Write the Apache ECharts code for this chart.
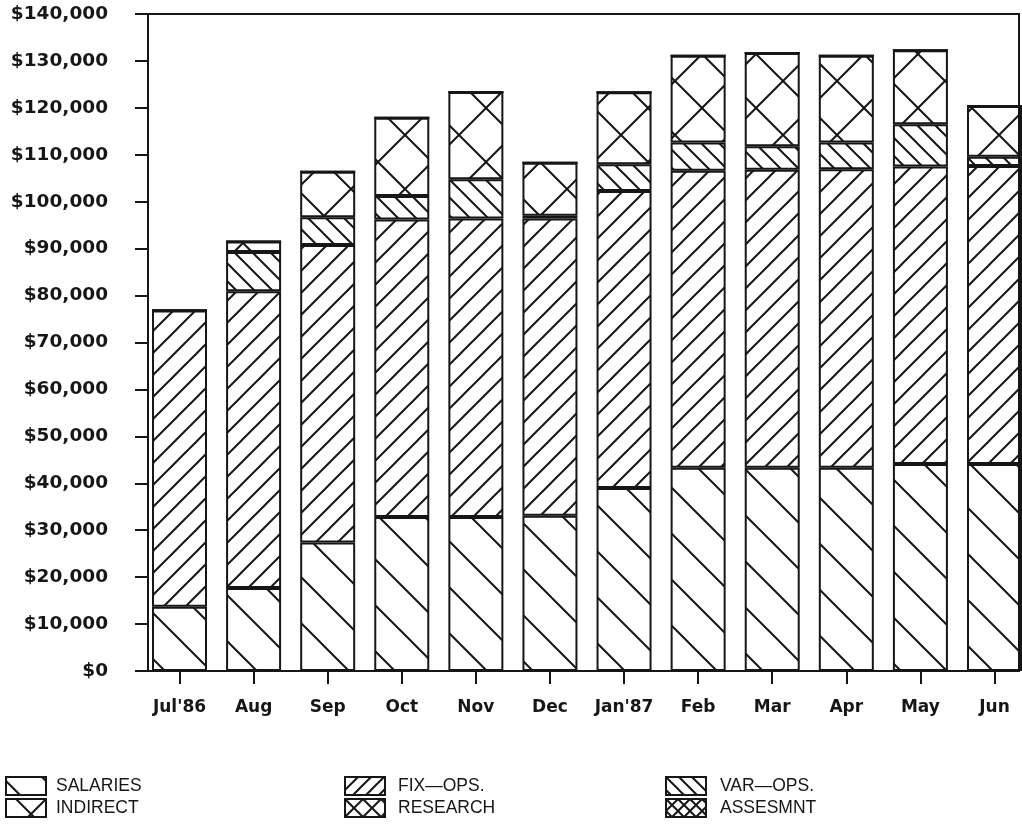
<!DOCTYPE html>
<html>
<head>
<meta charset="utf-8">
<script src="https://cdn.jsdelivr.net/npm/echarts@6.0.0/dist/echarts.min.js"></script>
<style>
  html, body { margin: 0; padding: 0; background: #ffffff; }
  #chart { width: 1022px; height: 827px; }
</style>
</head>
<body>
<div id="chart"></div>
<script>
// Monthly expenditure, Jul'86 - Jun'87, stacked by cost category
const months = ["Jul'86", "Aug", "Sep", "Oct", "Nov", "Dec", "Jan'87", "Feb", "Mar", "Apr", "May", "Jun"];
const salaries = [13700, 17700, 27400, 32800, 32800, 33100, 39000, 43300, 43300, 43300, 44100, 44100];
const fixOps   = [63100, 63200, 63400, 63400, 63600, 63300, 63300, 63300, 63500, 63600, 63400, 63500];
const varOps   = [0, 8400, 5900, 5000, 8400, 600, 5700, 6000, 5000, 5700, 9000, 2000];
const indirect = [0, 2200, 9700, 16700, 18600, 11300, 15300, 18500, 19900, 18500, 15800, 10800];
const research = [0, 0, 0, 0, 0, 0, 0, 0, 0, 0, 0, 0];
const assesmnt = [0, 0, 0, 0, 0, 0, 0, 0, 0, 0, 0, 0];

const INK = '#161616';

// Repeating 45-degree hatch tile; '\\' and '/' choose the stroke directions,
// offB / offF shift each family of strokes along the tile.
function hatch(step, kinds, lw, offB, offF) {
  const c = document.createElement('canvas');
  c.width = step; c.height = step;
  const g = c.getContext('2d');
  g.fillStyle = '#ffffff';
  g.fillRect(0, 0, step, step);
  g.strokeStyle = INK;
  g.lineWidth = lw;
  offB = offB || 0;
  offF = offF === undefined ? offB : offF;
  for (let k = -2; k <= 2; k++) {
    if (kinds.indexOf('\\') >= 0) {
      const o = k * step + offB;
      g.beginPath(); g.moveTo(-step + o, -step); g.lineTo(2 * step + o, 2 * step); g.stroke();
    }
    if (kinds.indexOf('/') >= 0) {
      const o = k * step + offF;
      g.beginPath(); g.moveTo(-step + o, 2 * step); g.lineTo(2 * step + o, -step); g.stroke();
    }
  }
  return { image: c, repeat: 'repeat' };
}

// fills used inside the bars
const fills = {
  'SALARIES': hatch(46, '\\', 2),
  'FIX\u2014OPS.': hatch(22, '/', 2),
  'VAR\u2014OPS.': hatch(18, '\\', 2),
  'INDIRECT': hatch(54, '\\/', 2),
  'RESEARCH': hatch(20, '\\/', 2),
  'ASSESMNT': hatch(13, '\\/', 2)
};
// smaller-scale fills for the legend swatches
const swatches = {
  'SALARIES': hatch(40, '\\', 2, 36),
  'FIX\u2014OPS.': hatch(13, '/', 2),
  'VAR\u2014OPS.': hatch(13, '\\', 2),
  'INDIRECT': hatch(40, '\\/', 2, 10, 0),
  'RESEARCH': hatch(18, '\\/', 2),
  'ASSESMNT': hatch(12, '\\/', 2)
};

const seriesDefs = [
  ['SALARIES', salaries],
  ['FIX\u2014OPS.', fixOps],
  ['VAR\u2014OPS.', varOps],
  ['INDIRECT', indirect],
  ['RESEARCH', research],
  ['ASSESMNT', assesmnt]
];

const series = seriesDefs.map(([name, data]) => ({
  name: name,
  type: 'bar',
  stack: 'total',
  xAxisIndex: 1,
  yAxisIndex: 1,
  barWidth: 55,
  clip: false,
  data: data,
  itemStyle: { color: fills[name], borderColor: INK, borderWidth: 2 },
  emphasis: { disabled: true }
}));

function legendColumn(left, names, textPad) {
  return {
    orient: 'vertical',
    left: left,
    top: 776,
    height: 50,
    padding: 0,
    itemWidth: 40,
    itemHeight: 18,
    itemGap: 2,
    icon: 'rect',
    selectedMode: false,
    textStyle: {
      fontFamily: 'Liberation Sans',
      fontSize: 17.5,
      lineHeight: 18,
      color: INK,
      padding: [0, 0, 0, textPad]
    },
    data: names.map(n => ({
      name: n,
      itemStyle: { color: swatches[n], borderColor: INK, borderWidth: 2 }
    }))
  };
}

const chart = echarts.init(document.getElementById('chart'), null, { renderer: 'canvas' });
chart.setOption({
  animation: false,
  backgroundColor: '#ffffff',
  grid: [
    // plot frame and value scale, drawn above the bars
    { left: 148, right: 3, top: 14, bottom: 156, z: 10, show: true, borderColor: INK, borderWidth: 2, backgroundColor: 'transparent' },
    // month positions: first and last month sit on the ends of this span
    { left: 179.5, right: 27.5, top: 14, bottom: 156 }
  ],
  xAxis: [
    { gridIndex: 0, type: 'value', show: false, min: 0, max: 1 },
    {
      gridIndex: 1,
      type: 'category',
      data: months,
      boundaryGap: false,
      axisLine: { show: false },
      axisTick: { show: true, interval: 0, length: 13, lineStyle: { color: INK, width: 2 } },
      axisLabel: {
        interval: 0,
        margin: 28,
        fontFamily: 'DejaVu Sans',
        fontWeight: 'bold',
        fontSize: 17,
        color: INK
      }
    }
  ],
  yAxis: [
    {
      gridIndex: 0,
      type: 'value',
      min: 0,
      max: 140000,
      interval: 10000,
      axisLine: { show: true, lineStyle: { color: INK, width: 2 } },
      axisTick: { show: true, length: 13, lineStyle: { color: INK, width: 2 } },
      splitLine: { show: false },
      axisLabel: {
        margin: 40,
        fontFamily: 'DejaVu Sans',
        fontWeight: 'bold',
        fontSize: 18.5,
        color: INK,
        formatter: v => '$' + v.toLocaleString('en-US')
      }
    },
    { gridIndex: 1, type: 'value', min: 0, max: 140000, show: false }
  ],
  legend: [
    legendColumn(5, ['SALARIES', 'INDIRECT'], 5),
    legendColumn(344, ['FIX\u2014OPS.', 'RESEARCH'], 8),
    legendColumn(665, ['VAR\u2014OPS.', 'ASSESMNT'], 9)
  ],
  series: series
});
</script>
</body>
</html>
